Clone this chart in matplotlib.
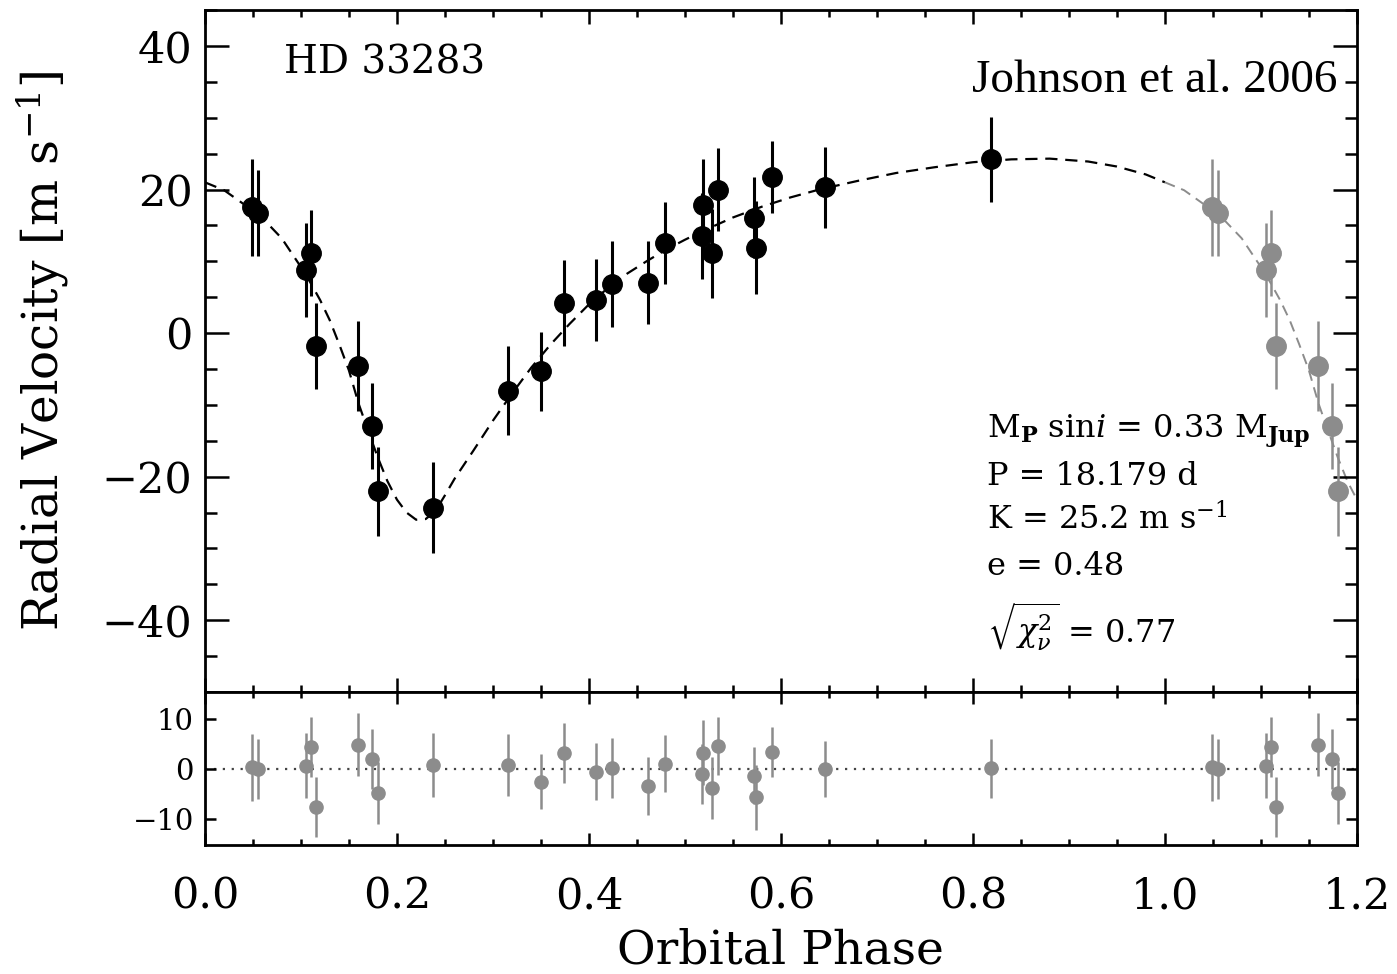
import numpy as np
import matplotlib
matplotlib.use('Agg')
import matplotlib.pyplot as plt
from matplotlib.ticker import MultipleLocator

plt.rcParams['font.family'] = 'DejaVu Serif'
plt.rcParams['mathtext.fontset'] = 'dejavuserif'

# measured velocities (phase-folded)
phase = np.array([0.049, 0.055, 0.105, 0.110, 0.116, 0.159, 0.174, 0.180, 0.238,
                  0.316, 0.350, 0.374, 0.407, 0.424, 0.462, 0.479, 0.518, 0.519,
                  0.528, 0.534, 0.572, 0.574, 0.591, 0.646, 0.819])
rv = np.array([17.5, 16.7, 8.8, 11.2, -1.8, -4.6, -13.0, -22.0, -24.3,
               -8.0, -5.3, 4.2, 4.6, 6.8, 7.0, 12.6, 13.5, 17.8,
               11.1, 20.0, 16.1, 11.9, 21.7, 20.3, 24.2])
rv_err = np.array([6.7, 6.0, 6.5, 6.0, 6.0, 6.3, 6.0, 6.2, 6.4,
                   6.2, 5.5, 6.0, 5.7, 6.0, 5.8, 5.7, 6.0, 6.5,
                   6.2, 5.8, 5.7, 6.5, 5.0, 5.6, 5.9])
resid = np.array([0.4, 0.0, 0.7, 4.5, -7.5, 4.9, 2.1, -4.7, 0.9,
                  0.9, -2.5, 3.3, -0.5, 0.2, -3.3, 1.1, -0.9, 3.3,
                  -3.8, 4.7, -1.3, -5.6, 3.5, 0.0, 0.2])

# fitted orbit
model_phase = np.array([0.00, 0.02, 0.04, 0.05, 0.06, 0.08, 0.10, 0.11, 0.12, 0.13,
                        0.14, 0.15, 0.16, 0.17, 0.18, 0.19, 0.20, 0.21, 0.22, 0.23,
                        0.24, 0.25, 0.26, 0.28, 0.30, 0.32, 0.34, 0.36, 0.38, 0.40,
                        0.42, 0.44, 0.46, 0.48, 0.50, 0.52, 0.55, 0.58, 0.61, 0.64,
                        0.68, 0.72, 0.76, 0.80, 0.84, 0.88, 0.92, 0.95, 0.98, 1.00])
model_rv = np.array([21.0, 19.9, 18.0, 17.1, 16.0, 13.2, 9.2, 7.0, 4.6, 1.8,
                     -1.6, -5.2, -9.8, -13.6, -17.3, -20.6, -23.2, -25.0, -26.0, -25.9,
                     -24.8, -22.6, -20.3, -16.3, -12.2, -8.4, -4.8, -1.6, 1.3, 4.0,
                     6.3, 8.3, 10.0, 11.6, 13.0, 14.3, 16.1, 17.6, 18.9, 20.0,
                     21.2, 22.3, 23.1, 23.8, 24.2, 24.3, 23.9, 23.2, 22.1, 21.0])

gray = '#8c8c8c'
wrap = phase < 0.2
mwrap = model_phase <= 0.22

fig = plt.figure(figsize=(13.97, 9.74), dpi=100)
ax = fig.add_axes([0.1467, 0.2895, 0.8246, 0.7002])
axr = fig.add_axes([0.1467, 0.1324, 0.8246, 0.1571], sharex=ax)

# top panel
ax.plot(model_phase, model_rv, color='k', ls=(0, (5.5, 3.5)), lw=1.6, zorder=1)
ax.plot(model_phase[mwrap] + 1, model_rv[mwrap], color=gray, ls=(0, (5.5, 3.5)), lw=1.4, zorder=1)
ax.errorbar(phase, rv, yerr=rv_err, fmt='o', color='k', ms=14,
            elinewidth=2.2, capsize=0, zorder=3)
ax.errorbar(phase[wrap] + 1, rv[wrap], yerr=rv_err[wrap], fmt='o', color=gray,
            ms=14, elinewidth=1.8, capsize=0, zorder=3)

ax.set_xlim(0, 1.2)
ax.set_ylim(-50, 45)
ax.xaxis.set_major_locator(MultipleLocator(0.2))
ax.xaxis.set_minor_locator(MultipleLocator(0.05))
ax.yaxis.set_major_locator(MultipleLocator(20))
ax.yaxis.set_minor_locator(MultipleLocator(5))
ax.tick_params(axis='both', which='both', direction='in', top=True, right=True,
               width=1.8, labelbottom=False)
ax.tick_params(axis='y', which='major', length=17, labelsize=31, pad=9)
ax.tick_params(axis='y', which='minor', length=8.5)
ax.tick_params(axis='x', which='major', length=10)
ax.tick_params(axis='x', which='minor', length=5)
ax.set_ylabel(r'Radial Velocity [m s$^{-1}$]', fontsize=35)
ax.yaxis.set_label_coords(-0.116, 0.5)

ax.text(0.069, 0.922, 'HD 33283', transform=ax.transAxes, fontsize=28, va='center')
ax.text(0.983, 0.88, 'Johnson et al. 2006', transform=ax.transAxes, fontsize=34,
        family='Liberation Serif', ha='right', va='baseline')

params = [r'M$_\mathbf{P}$ sin$\mathit{i}$ = 0.33 M$_\mathbf{Jup}$',
          'P = 18.179 d',
          r'K = 25.2 m s$^{-1}$',
          'e = 0.48',
          r'$\sqrt{\chi^2_\nu}$ = 0.77']
param_y = [0.372, 0.3035, 0.2375, 0.1716, 0.072]
for s, yy in zip(params, param_y):
    ax.text(0.679, yy, s, transform=ax.transAxes, fontsize=23, va='baseline')

# residual panel
axr.axhline(0, color='#444444', ls=(0, (1, 3)), lw=1.6, zorder=1)
axr.errorbar(phase, resid, yerr=rv_err, fmt='o', color=gray, ms=9.5,
             elinewidth=1.8, capsize=0, zorder=3)
axr.errorbar(phase[wrap] + 1, resid[wrap], yerr=rv_err[wrap], fmt='o', color=gray,
             ms=9.5, elinewidth=1.8, capsize=0, zorder=3)
axr.set_ylim(-15.2, 15.4)
axr.set_yticks([-10, 0, 10])
axr.tick_params(axis='both', which='both', direction='in', top=True, right=True, width=1.8)
axr.tick_params(axis='x', which='major', length=8.5, labelsize=31, pad=22)
axr.tick_params(axis='x', which='minor', length=4)
axr.tick_params(axis='y', which='major', length=8, labelsize=21, pad=8)
axr.set_xlabel('Orbital Phase', fontsize=34)
axr.xaxis.set_label_coords(0.5, -0.545)

for a in (ax, axr):
    for sp in a.spines.values():
        sp.set_linewidth(2)

fig.savefig('out.png', dpi=100)
